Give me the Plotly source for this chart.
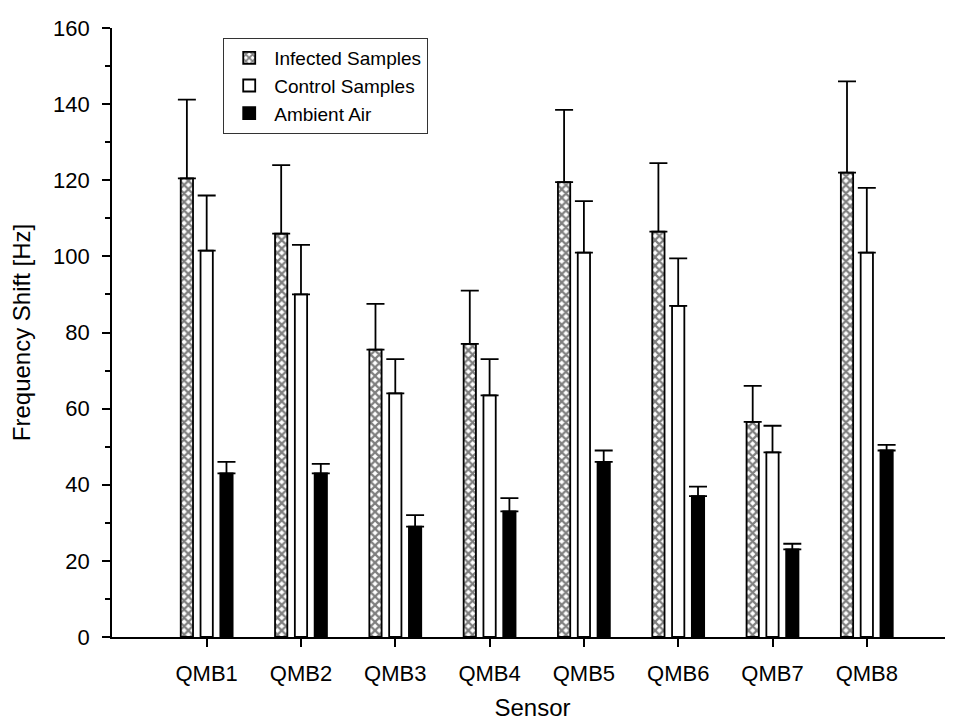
import plotly.graph_objects as go

sensors = ["QMB1", "QMB2", "QMB3", "QMB4", "QMB5", "QMB6", "QMB7", "QMB8"]
infected = [120.5, 106, 75.5, 77, 119.5, 106.5, 56.5, 122]
infected_err = [20.7, 18, 12, 14, 19, 18, 9.5, 24]
control = [101.5, 90, 64, 63.5, 101, 87, 48.5, 101]
control_err = [14.5, 13, 9, 9.5, 13.5, 12.5, 7, 17]
ambient = [43, 43, 29, 33, 46, 37, 23, 49]
ambient_err = [3, 2.5, 3, 3.5, 3, 2.5, 1.5, 1.5]

xidx = list(range(len(sensors)))

def eb(err):
    return dict(type="data", symmetric=False, array=err, arrayminus=[0]*len(err),
                color="black", thickness=1.8, width=9)

fig = go.Figure()
fig.add_trace(go.Bar(
    x=xidx, y=infected, name="Infected Samples", error_y=eb(infected_err),
    marker=dict(color="white", line=dict(color="black", width=1.8),
                pattern=dict(shape="x", fgcolor="black", bgcolor="white", size=6, solidity=0.6))))
fig.add_trace(go.Bar(
    x=xidx, y=control, name="Control Samples", error_y=eb(control_err),
    marker=dict(color="white", line=dict(color="black", width=1.8))))
fig.add_trace(go.Bar(
    x=xidx, y=ambient, name="Ambient Air", error_y=eb(ambient_err),
    marker=dict(color="black", line=dict(color="black", width=1.8))))

fig.update_layout(
    width=945, height=719,
    paper_bgcolor="white", plot_bgcolor="white",
    margin=dict(l=104, r=0, t=20, b=90),
    barmode="group", bargap=0.37, bargroupgap=0.38,
    font=dict(family="Liberation Sans, Arial, sans-serif", color="black", size=22),
    legend=dict(x=0.132, y=0.984, xanchor="left", yanchor="top",
                bgcolor="white", bordercolor="#333", borderwidth=1.2,
                font=dict(size=19), tracegroupgap=0, itemwidth=40),
    xaxis=dict(range=[-1.004, 7.914], tickvals=xidx, ticktext=sensors,
               showline=True, linecolor="black", linewidth=1.8,
               ticks="outside", ticklen=8, tickwidth=1.8, tickcolor="black",
               ticklabelstandoff=8,
               showgrid=False, zeroline=False,
               title=dict(text="Sensor", font=dict(size=24), standoff=14)),
    yaxis=dict(range=[0, 160], dtick=20, showline=True, linecolor="black", linewidth=1.8,
               ticks="outside", ticklen=8, tickwidth=1.8, tickcolor="black",
               ticklabelstandoff=8,
               minor=dict(dtick=10, ticks="outside", ticklen=5, tickwidth=1.8, tickcolor="black"),
               showgrid=False, zeroline=False,
               title=dict(text="Frequency Shift [Hz]", font=dict(size=24), standoff=16)),
)

fig.write_html("out.html")
